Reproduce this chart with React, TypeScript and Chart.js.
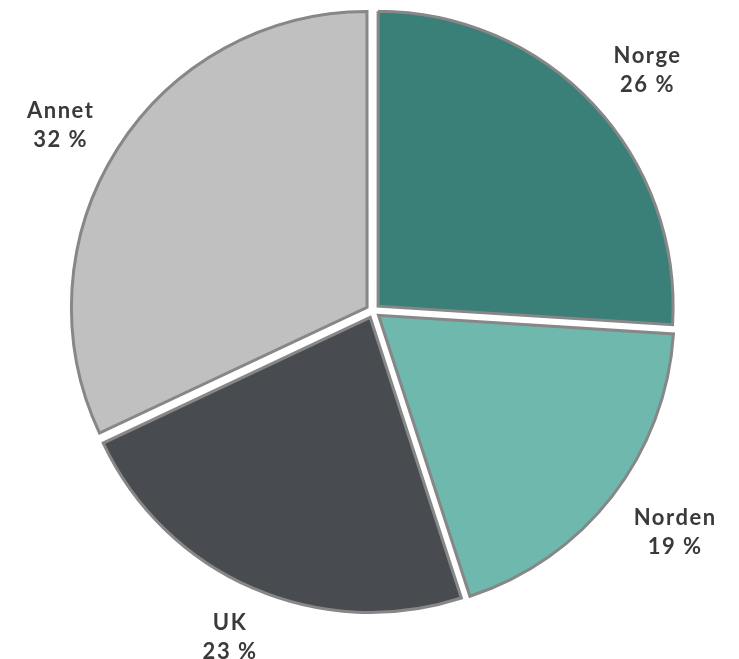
import React, { useEffect, useRef } from "react";
import { Chart, registerables } from "chart.js";

Chart.register(...registerables);

const categories = ["Norge", "Norden", "UK", "Annet"];
const values = [26, 19, 23, 32];
const valueLabels = ["26 %", "19 %", "23 %", "32 %"];
const colors = ["#3a7f78", "#6eb8ae", "#484b50", "#c0c0c0"];

const labelPlugin = {
  id: "outerLabels",
  afterDatasetsDraw(chart: any) {
    const ctx = chart.ctx;
    const meta = chart.getDatasetMeta(0);
    ctx.save();
    ctx.font = "bold 22px Lato";
    (ctx as any).letterSpacing = "1.5px";
    ctx.fillStyle = "#3a3a3a";
    ctx.textAlign = "center";
    ctx.textBaseline = "middle";
    const lineGap = 29;
    meta.data.forEach((arc: any, i: number) => {
      const { x, y, startAngle, endAngle, outerRadius } = arc.getProps(
        ["x", "y", "startAngle", "endAngle", "outerRadius"],
        true
      );
      const mid = (startAngle + endAngle) / 2;
      const w = Math.max(
        ctx.measureText(categories[i]).width,
        ctx.measureText(valueLabels[i]).width
      );
      const hw = w / 2;
      const hh = 20;
      const vx = Math.cos(mid);
      const vy = Math.sin(mid);
      const vs = 1 / Math.max(Math.abs(vx), Math.abs(vy));
      const ra = outerRadius + 35;
      const lx = x + vx * ra + hw * vx * vs;
      const ly = y + vy * ra + hh * vy * vs + 4;
      ctx.fillText(categories[i], lx, ly - lineGap / 2);
      ctx.fillText(valueLabels[i], lx, ly + lineGap / 2);
    });
    ctx.restore();
  },
};

export default function App() {
  const ref = useRef<HTMLCanvasElement | null>(null);
  useEffect(() => {
    if (!ref.current) return;
    const chart = new Chart(ref.current, {
      type: "pie",
      data: {
        labels: categories,
        datasets: [
          {
            data: values,
            backgroundColor: colors,
            borderColor: "#878787",
            borderWidth: 3,
            borderJoinStyle: "miter",
            offset: 28,
            hoverOffset: 28,
          } as any,
        ],
      },
      options: {
        animation: false,
        responsive: true,
        maintainAspectRatio: false,
        radius: 295,
        layout: { padding: { left: 7, right: 0, top: 0, bottom: 45 } },
        plugins: {
          legend: { display: false },
          tooltip: { enabled: false },
        },
        events: [],
      } as any,
      plugins: [labelPlugin],
    });
    return () => chart.destroy();
  }, []);
  return (
    <div style={{ width: 723, height: 651, position: "relative" }}>
      <canvas ref={ref} />
    </div>
  );
}
